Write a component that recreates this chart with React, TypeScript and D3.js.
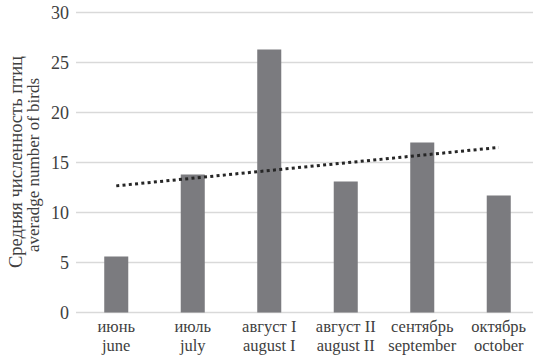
import React from "react";
import * as d3 from "d3";

const categoriesRu = ["июнь", "июль", "август I", "август II", "сентябрь", "октябрь"];
const categoriesEn = ["june", "july", "august I", "august II", "september", "october"];
const birdCounts = [5.6, 13.8, 26.3, 13.1, 17.0, 11.7];
const yTicks = [0, 5, 10, 15, 20, 25, 30];

const W = 533;
const H = 359;
const plotLeft = 76;
const bandLeft = 78;
const bandRight = 537;
const yTop = 12.5;
const yBottom = 312.5;

const FONT = "Liberation Serif, Tinos, DejaVu Serif, serif";

export default function App() {
  const x = d3.scaleBand<number>()
    .domain(d3.range(birdCounts.length))
    .range([bandLeft, bandRight])
    .paddingInner(0.686)
    .paddingOuter(0.343);
  const y = d3.scaleLinear().domain([0, 30]).range([yBottom, yTop]);

  // linear trend (least squares over category index 1..n)
  const idx = birdCounts.map((_, i) => i + 1);
  const mx = d3.mean(idx)!;
  const my = d3.mean(birdCounts)!;
  const slope =
    d3.sum(idx.map((v, i) => (v - mx) * (birdCounts[i] - my))) /
    d3.sum(idx.map((v) => (v - mx) ** 2));
  const intercept = my - slope * mx;
  const trendPts: [number, number][] = [0, birdCounts.length - 1].map((i) => [
    x(i)! + x.bandwidth() / 2,
    y(intercept + slope * (i + 1)),
  ]);
  const trendPath = d3.line()(trendPts)!;

  return (
    <svg width={W} height={H} style={{ position: "absolute", left: 0, top: 0, background: "#fff", fontFamily: FONT }}>
      <g>
        {yTicks.map((t) => (
          <line key={t} x1={plotLeft} x2={W + 4} y1={y(t)} y2={y(t)} stroke="#d9d9d9" strokeWidth={1.5} />
        ))}
        {yTicks.map((t) => (
          <text
            key={"l" + t}
            x={69}
            y={y(t)}
            dy="0.35em"
            textAnchor="end"
            style={{ fontFamily: FONT, fontSize: 18 }}
            fill="#404040"
          >
            {t}
          </text>
        ))}
      </g>
      <g>
        {birdCounts.map((v, i) => (
          <rect
            key={i}
            x={x(i)!}
            y={y(v)}
            width={x.bandwidth()}
            height={y(0) - y(v)}
            fill="#7b7b7f"
          />
        ))}
      </g>
      <path d={trendPath} fill="none" stroke="#262626" strokeWidth={3} strokeDasharray="3 3.3" />
      <g style={{ fontFamily: FONT, fontSize: 16.5 }} fill="#404040" textAnchor="middle">
        {categoriesRu.map((c, i) => (
          <text key={"ru" + i} x={x(i)! + x.bandwidth() / 2} y={332}>
            {c}
          </text>
        ))}
        {categoriesEn.map((c, i) => (
          <text key={"en" + i} x={x(i)! + x.bandwidth() / 2} y={351}>
            {c}
          </text>
        ))}
      </g>
      <g fill="#404040" textAnchor="middle">
        <text transform="translate(22,162) rotate(-90)" style={{ fontFamily: FONT, fontSize: 18.5 }}>
          Средняя численность птиц
        </text>
        <text transform="translate(38.5,165) rotate(-90)" style={{ fontFamily: FONT, fontSize: 17 }}>
          averadge number of birds
        </text>
      </g>
    </svg>
  );
}
